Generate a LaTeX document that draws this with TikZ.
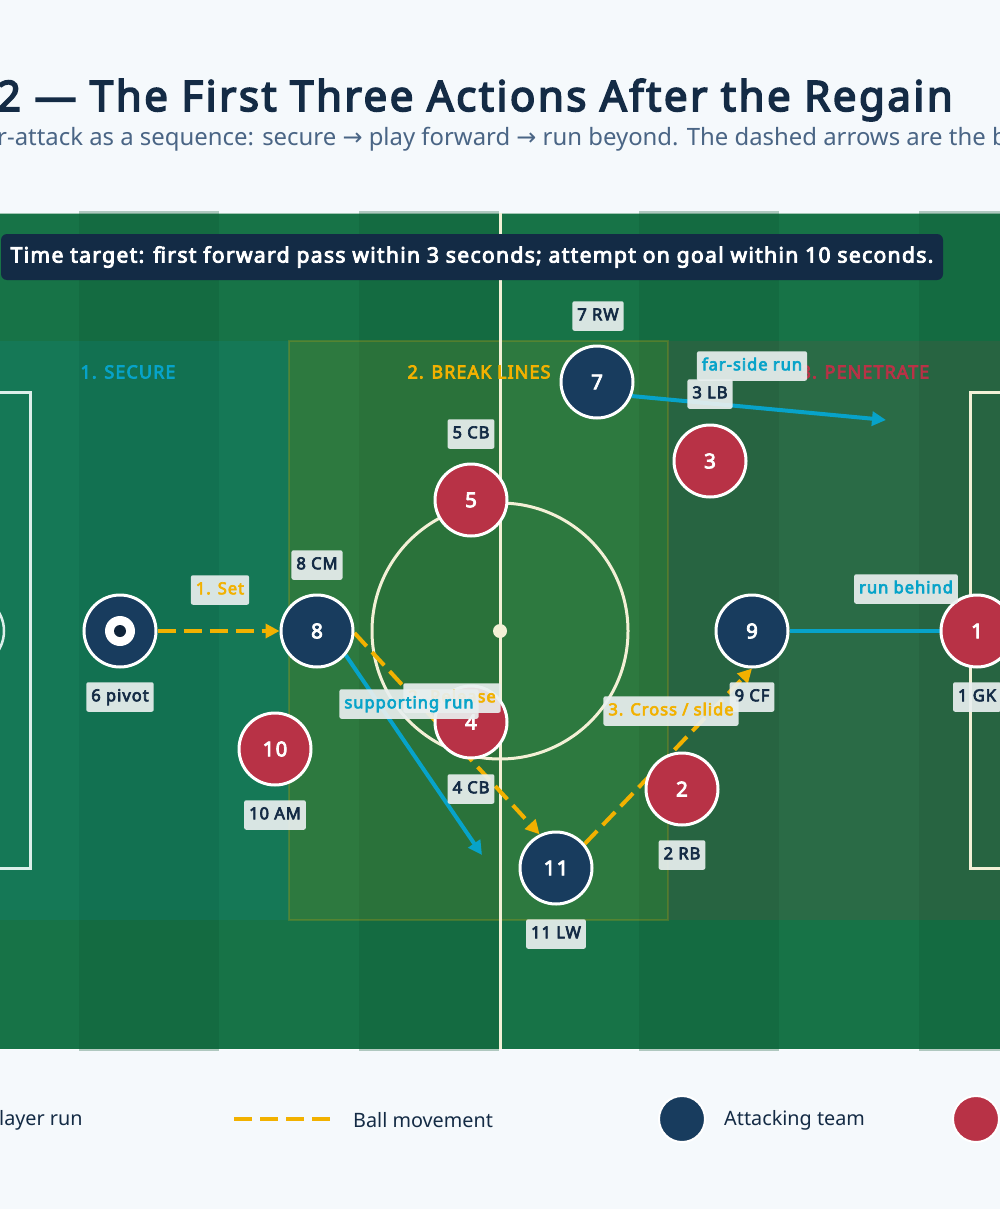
\documentclass[tikz,border=0pt]{standalone}
\usepackage{fontspec}
\setmainfont{Noto Sans}[BoldFont={*}, BoldFeatures={FakeBold=4,LetterSpace=6}]
\newfontfamily\arrowfont{DejaVu Sans}
\usetikzlibrary{arrows.meta}
\pgfdeclarelayer{pitchl}
\pgfdeclarelayer{arrowl}
\pgfsetlayers{pitchl,arrowl,main}
\definecolor{bg}{HTML}{F5F9FC}
\definecolor{pitch}{HTML}{177347}
\definecolor{stripe}{HTML}{0F5A35}
\definecolor{navy}{HTML}{183C5E}
\definecolor{ink}{HTML}{142B45}
\definecolor{slate}{HTML}{4A6585}
\definecolor{oppred}{HTML}{B83246}
\definecolor{amber}{HTML}{F2B100}
\definecolor{runcyan}{HTML}{07A3C9}
\definecolor{chalk}{HTML}{F3F0D6}
\definecolor{boxline}{HTML}{DCEFEA}
\definecolor{tagfill}{HTML}{E9EFEF}
\definecolor{hdr}{HTML}{132B45}
\definecolor{balldot}{HTML}{10243A}
\begin{document}
\begin{tikzpicture}[x=1pt,y=-1pt,
  player/.style={circle, draw=white, line width=3pt, minimum size=72pt, inner sep=0pt,
    font=\bfseries\fontsize{20.5}{20.5}\selectfont, text=white},
  att/.style={player, fill=navy},
  def/.style={player, fill=oppred},
  tag/.style={fill=tagfill, fill opacity=0.92, text opacity=1, rounded corners=2pt,
    inner xsep=5pt, inner ysep=7.5pt, text height=11.5pt, text depth=3pt,
    font=\bfseries\fontsize{16.5}{16.5}\selectfont, text=ink},
  balltag/.style={tag, text=amber},
  runtag/.style={tag, text=runcyan},
  ballmove/.style={draw=amber, line width=4pt, dash pattern=on 18pt off 8pt,
    -{Triangle[length=14pt,width=14pt]}},
  playerrun/.style={draw=runcyan, line width=4pt, -{Triangle[length=14pt,width=14pt]}},
  zonelbl/.style={font=\bfseries\fontsize{18}{18}\selectfont},
  legendtxt/.style={font=\fontsize{19.8}{19.8}\selectfont, text=ink},
  chalkline/.style={draw=chalk, line width=3pt}
]
\useasboundingbox (0,0) rectangle (1000,1209);
\clip (0,0) rectangle (1000,1209);

% ---------------- pitch ----------------
\begin{pgfonlayer}{pitchl}
\clip (0,0) rectangle (1000,1209);
\fill[bg] (0,0) rectangle (1000,1209);
\fill[pitch] (-60,213) rectangle (1060,1049);
\draw[white, opacity=0.6, line width=1pt] (-60,213) rectangle (1060,1049);
\foreach \sx in {-201,79,359,639,919}
  \fill[stripe, opacity=0.3] (\sx,211) rectangle ++(140,840);
% zones
\fill[runcyan, opacity=0.12] (-60,341) rectangle (289,920);
\fill[amber, opacity=0.10] (289,341) rectangle (668,920);
\draw[amber, opacity=0.2, line width=2pt] (289,341) rectangle (668,920);
\fill[oppred, opacity=0.12] (668,341) rectangle (1060,920);
% markings
\draw[chalkline] (500,213) -- (500,1049);
\draw[chalkline] (500,631) circle (128);
\fill[chalk] (500,631) circle (7);
\draw[boxline, line width=3pt] (-200,392) rectangle (30,868);
\draw[chalk, line width=3pt] (970,392) rectangle (1200,868);
\draw[boxline, line width=2.5pt] (-33,631) circle (37);
\end{pgfonlayer}

% ---------------- title ----------------
\node[anchor=base east, inner sep=0pt, font=\bfseries\fontsize{42}{42}\selectfont, text=ink]
  (title) at (953,111) {2 — The First Three Actions After the Regain};
\node[anchor=base west, inner sep=0pt, font=\fontsize{23.9}{23.9}\selectfont, text=slate]
  (subtitle) at (-3,146) {r-attack as a sequence: secure {\arrowfont →} play forward {\arrowfont →} run beyond. The dashed arrows are the ball path.};

\node[fill=hdr, rounded corners=6pt, minimum width=942pt, minimum height=46pt, inner sep=0pt,
  text=white, font=\bfseries\fontsize{21.2}{21.2}\selectfont] (tt) at (472,257)
  {Time target: first forward pass within 3 seconds; attempt on goal within 10 seconds.};

% zone labels
\node[zonelbl, text=runcyan] (z1) at (128,372) {1. SECURE};
\node[zonelbl, text=amber] (z2) at (479,372) {2. BREAK LINES};
\node[zonelbl, text=oppred] (z3) at (865,372) {3. PENETRATE};

% ---------------- players ----------------
\node[att] (p6) at (120,631) {};
\fill[white] (p6.center) circle (15);
\fill[balldot] (p6.center) circle (6);
\node[att] (p8) at (317,631) {8};
\node[def] (p10) at (275,749) {10};
\node[def] (p5) at (471,500) {5};
\node[def] (p4) at (471,722) {4};
\node[att] (p7) at (597,382) {7};
\node[def] (p3) at (710,461) {3};
\node[att] (p11) at (556,868) {11};
\node[def] (p2) at (682,789) {2};
\node[att] (p9) at (752,631) {9};
\node[def] (p1) at (977,631) {1};

\coordinate (supend) at (482,855);
\coordinate (farend) at (886,420);

% ---------------- connectors ----------------
\begin{pgfonlayer}{arrowl}
\clip (0,0) rectangle (1000,1209);
\draw[ballmove] (p6) -- (p8);
\draw[ballmove] (p8.-3) -- (p11.116);
\draw[ballmove] (p11.40) -- (p9.south);
\draw[playerrun] (p8.-40) -- (supend);
\draw[playerrun] (p7.-22) -- (farend);
\draw[playerrun] (p9) -- (p1.center);
\end{pgfonlayer}

% ---------------- name tags ----------------
\node[tag] (t7) at (598,316) {7 RW};
\node[tag] (t5) at (471,434) {5 CB};
\node[tag] (t8) at (317,565) {8 CM};
\node[tag] (t6) at (120,697) {6 pivot};
\node[tag] (t10) at (275,815) {10 AM};
\node[tag] (t4) at (471,789) {4 CB};
\node[tag] (t11) at (556,934) {11 LW};
\node[tag] (t2) at (682,855) {2 RB};
\node[tag] (t9) at (752,697) {9 CF};
\node[tag] (t1) at (977,697) {1 GK};

% ---------------- connector labels ----------------
\node[balltag] (l1) at (220,590) {1. Set};
\node[balltag] (l2) at (452,698) {2. Release};
\node[runtag] (lsup) at (409,704) {supporting run};
\node[balltag] (l3) at (671,711) {3. Cross / slide};
\node[runtag] (lfar) at (752,366) {far-side run};
\node[tag] (t3) at (710,394) {3 LB};
\node[runtag] (lbeh) at (906,589) {run behind};

% ---------------- legend ----------------
\coordinate (lr1) at (-130,1119);
\coordinate (lr2) at (-33,1119);
\draw[draw=runcyan, line width=4pt] (lr1) -- (lr2);
\node[anchor=west, inner sep=0pt, legendtxt] (lrt) at (-13,1120) {Player run};
\coordinate (lb1) at (234,1119);
\coordinate (lb2) at (332,1119);
\draw[draw=amber, line width=4pt, dash pattern=on 18pt off 8pt] (lb1) -- (lb2);
\node[anchor=west, inner sep=0pt, legendtxt] (lbt) at (353,1120) {Ball movement};
\node[circle, fill=navy, draw=white, line width=2pt, minimum size=46pt, inner sep=0pt] (lga) at (682,1119) {};
\node[anchor=west, inner sep=0pt, legendtxt] (lgat) at (724,1120) {Attacking team};
\node[circle, fill=oppred, draw=white, line width=2pt, minimum size=46pt, inner sep=0pt] (lgd) at (976,1119) {};
\node[anchor=west, inner sep=0pt, legendtxt] (lgdt) at (1018,1120) {Defending team};
\end{tikzpicture}
\end{document}
